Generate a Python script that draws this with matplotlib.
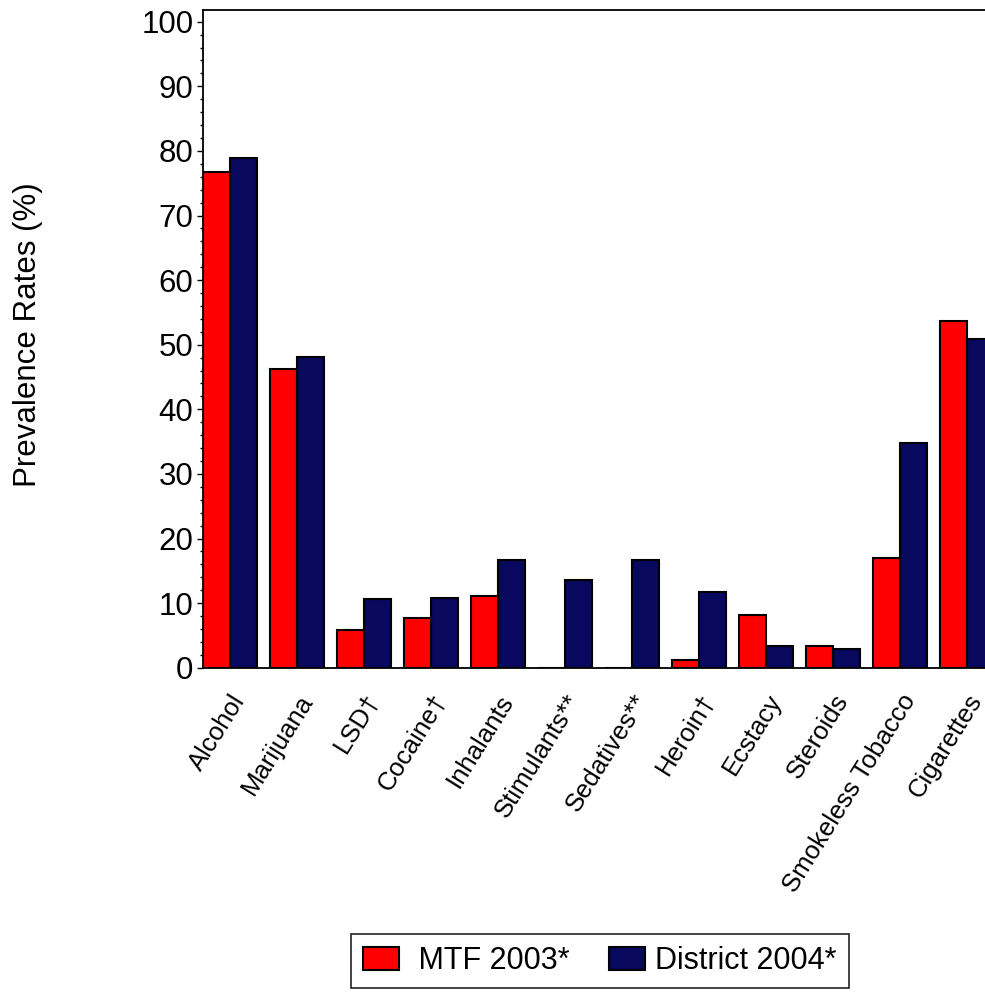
import matplotlib
matplotlib.use("Agg")
import matplotlib.pyplot as plt
from matplotlib.ticker import MultipleLocator
from matplotlib.transforms import ScaledTranslation
import numpy as np

plt.rcParams['font.family'] = ['Liberation Sans', 'DejaVu Sans']

categories = ["Alcohol", "Marijuana", "LSD\u2020", "Cocaine\u2020", "Inhalants",
              "Stimulants**", "Sedatives**", "Heroin\u2020", "Ecstacy", "Steroids",
              "Smokeless Tobacco", "Cigarettes"]
mtf_2003 = [76.7, 46.2, 5.8, 7.7, 11.1, 0, 0, 1.2, 8.2, 3.4, 17.0, 53.7]
district_2004 = [78.9, 48.1, 10.6, 10.8, 16.7, 13.5, 16.7, 11.7, 3.4, 2.9, 34.8, 50.9]
series_labels = [" MTF 2003*", "District 2004*"]
yticks = list(range(0, 101, 10))

W, H = 985, 992
fig = plt.figure(figsize=(W / 100, H / 100), dpi=100)
ax_left, ax_right, ax_top, ax_bottom = 203, 995, 10, 667.7
ax = fig.add_axes([ax_left / W, 1 - ax_bottom / H, (ax_right - ax_left) / W, (ax_bottom - ax_top) / H])

x = np.arange(len(categories))
bw = 0.403
red = '#ff0000'
navy = '#08085f'
ax.bar(x - bw / 2, mtf_2003, width=bw, color=red, edgecolor='black', linewidth=1.5, label=series_labels[0])
ax.bar(x + bw / 2, district_2004, width=bw, color=navy, edgecolor='black', linewidth=1.5, label=series_labels[1])

px_per_cat = 67.0
ax.set_xlim(-bw, -bw + (ax_right - ax_left) / px_per_cat)
ax.set_ylim(0, (ax_bottom - ax_top) / 6.46)

ax.set_yticks(yticks)
ax.yaxis.set_minor_locator(MultipleLocator(2))
ax.tick_params(axis='y', which='major', direction='out', length=4, width=1, labelsize=22.5, pad=3)
ax.tick_params(axis='y', which='minor', direction='out', length=2, width=1)
ax.spines['right'].set_visible(False)
for s in ['left', 'top', 'bottom']:
    ax.spines[s].set_linewidth(1.3)

ax.set_xticks(x)
ax.set_xticklabels(categories, rotation=58, ha='right', va='top', rotation_mode='anchor', fontsize=18.5)
ax.tick_params(axis='x', length=0, pad=16)
off = ScaledTranslation(0 / 100, 0, fig.dpi_scale_trans)
for lab in ax.get_xticklabels():
    lab.set_transform(lab.get_transform() + off)

fig.text(28 / W, 1 - 335 / H, "Prevalence Rates (%)", rotation=90, ha='center', va='center', fontsize=22.5)

leg = fig.legend(loc='center', bbox_to_anchor=(600 / W, 1 - 961 / H), ncol=2, fontsize=22,
                 frameon=True, fancybox=False, edgecolor='#222222', framealpha=1,
                 handlelength=1.18, handleheight=0.78, handletextpad=0.33,
                 columnspacing=1.3, borderpad=0.4, borderaxespad=0)
leg.get_frame().set_linewidth(1.2)

fig.savefig("out.png", dpi=100)
